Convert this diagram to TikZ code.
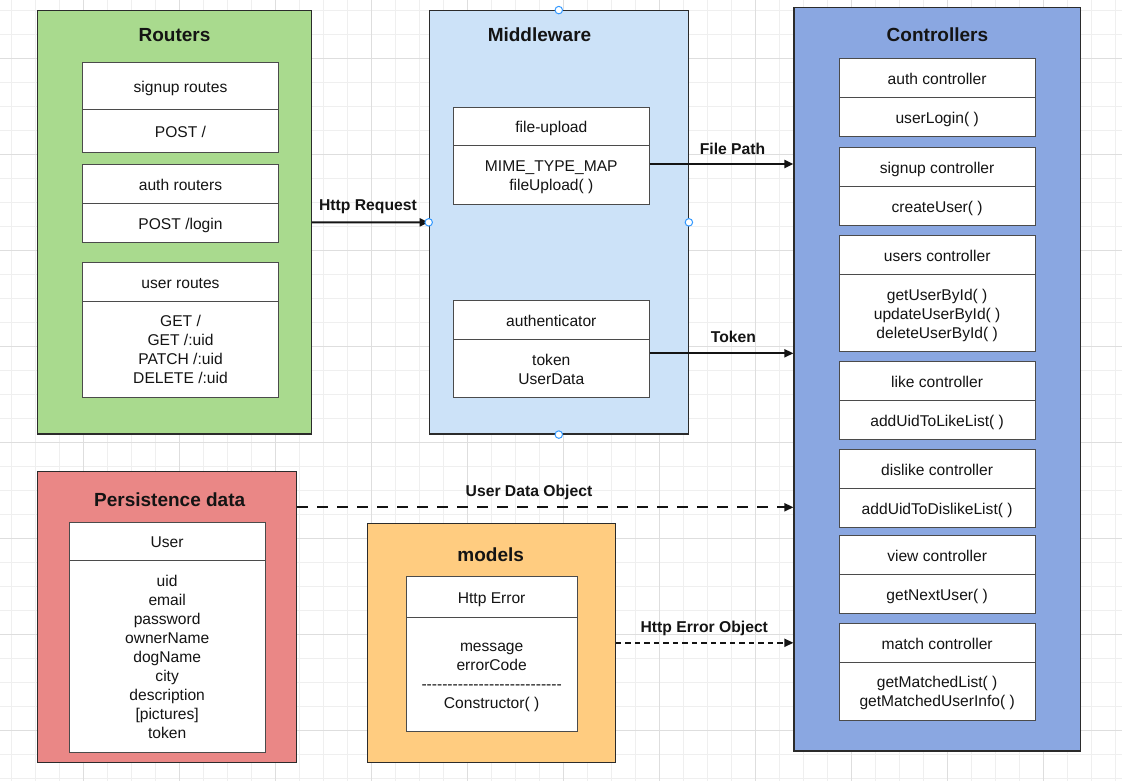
\documentclass[tikz,border=0pt]{standalone}
\usepackage{fontspec}
\usepackage{array}
\setmainfont{Liberation Sans}
\usetikzlibrary{arrows.meta,fit}
\definecolor{cRout}{HTML}{A9DA8E}
\definecolor{cMid}{HTML}{CCE2F8}
\definecolor{cCtrl}{HTML}{8AA7E1}
\definecolor{cPers}{HTML}{EA8786}
\definecolor{cMod}{HTML}{FFCC80}
\definecolor{cLine}{HTML}{2B2B2B}
\definecolor{cText}{HTML}{141414}
\definecolor{cGridMin}{HTML}{EFEFEF}
\definecolor{cGridMaj}{HTML}{DEDEDE}
\definecolor{cHandle}{HTML}{3399FF}
\newcommand\dstrut{\rule[-3.2pt]{0pt}{19pt}}
\newcommand\celllines[1]{{\renewcommand\arraystretch{0}\begin{tabular}{@{}>{\dstrut}c@{}}#1\end{tabular}}}
\newcommand\umlcell[8]{%
  \node[cell, minimum width={(#3-#2)*1pt}, minimum height={(#5-#4)*1pt}] (#1-h) at ({(#2+#3)/2},{(#4+#5)/2}) {\celllines{#7}};
  \node[cell, minimum width={(#3-#2)*1pt}, minimum height={(#6-#5)*1pt}] (#1-b) at ({(#2+#3)/2},{(#5+#6)/2}) {\celllines{#8}};}
\begin{document}
\begin{tikzpicture}[x=1pt,y=-1pt,
  container/.style={draw=cLine, line width=1.2pt, inner sep=0pt},
  cell/.style={draw=cLine!85, line width=1pt, fill=white, inner sep=0pt,
    text=cText, font=\fontsize{15.6}{19}\selectfont},
  title/.style={anchor=base, text=cText, font=\fontsize{19}{23}\selectfont\bfseries, inner sep=0pt},
  elabel/.style={anchor=base, text=cText, font=\fontsize{15.7}{19}\selectfont\bfseries, inner sep=0pt},
  conn/.style={draw=cText, line width=2pt, -{Triangle[length=9pt,width=8pt]}},
  handle/.style={circle, draw=cHandle, fill=white, line width=1pt, minimum size=7.5pt, inner sep=0pt},
]
\useasboundingbox (0,0) rectangle (1122,781);
\fill[white] (0,0) rectangle (1122,781);
% grid
\foreach \k in {0,...,46} \draw[cGridMin, line width=1pt] ({11.7+24*\k},0) -- ({11.7+24*\k},781);
\foreach \k in {0,...,32} \draw[cGridMin, line width=1pt] (0,{10.7+24*\k}) -- (1122,{10.7+24*\k});
\foreach \k in {3,7,...,43} \draw[cGridMaj, line width=1pt] ({11.7+24*\k},0) -- ({11.7+24*\k},781);
\foreach \k in {2,6,...,30} \draw[cGridMaj, line width=1pt] (0,{10.7+24*\k}) -- (1122,{10.7+24*\k});

% containers
\node[container, fill=cRout, fit={(37.5,10.5) (311.5,434)}] (routers) {};
\node[container, fill=cMid, fit={(429.3,10.7) (688.3,434)}] (mw) {};
\node[container, fill=cCtrl, fit={(794,7.3) (1080.7,751)}] (ctrl) {};
\node[container, fill=cPers, fit={(37.3,471.7) (296.7,762.3)}] (pers) {};
\node[container, fill=cMod, fit={(367.7,523.3) (615.3,762.3)}] (models) {};

% titles
\node[title] (t-rout) at (174.5,41.7) {Routers};
\node[title] (t-mw) at (539.5,41.7) {Middleware};
\node[title] (t-ctrl) at (937.4,41.7) {Controllers};
\node[title] (t-pers) at (169.7,506.7) {Persistence data};
\node[title] (t-mod) at (490.7,561.7) {models};

% routers
\umlcell{sr}{82.7}{278.3}{62.7}{109.3}{152.7}{signup routes}{POST /}
\umlcell{ar}{82.7}{278.3}{164.3}{203.3}{242.3}{auth routers}{POST /login}
\umlcell{ur}{82.7}{278.3}{262.7}{301.3}{397}{user routes}{GET /\\GET /:uid\\PATCH /:uid\\DELETE /:uid}
% middleware
\umlcell{fu}{453.3}{649.3}{107.3}{146}{204}{file-upload}{MIME\_TYPE\_MAP\\fileUpload( )}
\umlcell{au}{453.3}{649.3}{300.3}{339.3}{397.5}{authenticator}{token\\UserData}
% controllers
\umlcell{ac}{839.3}{1035}{58.7}{97.7}{136.3}{auth controller}{userLogin( )}
\umlcell{sc}{839.3}{1035}{147.3}{186.7}{225.3}{signup controller}{createUser( )}
\umlcell{uc}{839.3}{1035}{235.3}{274.7}{351.3}{users controller}{getUserById( )\\updateUserById( )\\deleteUserById( )}
\umlcell{lc}{839.3}{1035}{361.7}{400.7}{439.3}{like controller}{addUidToLikeList( )}
\umlcell{dc}{839.3}{1035}{449.3}{488.3}{527.3}{dislike controller}{addUidToDislikeList( )}
\umlcell{vc}{839.3}{1035}{535.3}{574.7}{613.3}{view controller}{getNextUser( )}
\umlcell{mc}{839.3}{1035}{623.7}{662.3}{720}{match controller}{getMatchedList( )\\getMatchedUserInfo( )}
% persistence
\umlcell{user}{69.3}{265}{522}{560.7}{752.3}{User}{uid\\email\\password\\ownerName\\dogName\\city\\description\\{[pictures]}\\token}
% models
\umlcell{he}{406}{577.3}{576.7}{617}{731.3}{Http Error}{message\\errorCode\\-{}-{}-{}-{}-{}-{}-{}-{}-{}-{}-{}-{}-{}-{}-{}-{}-{}-{}-{}-{}-{}-{}-{}-{}-{}-{}-{}\\Constructor( )}

% connectors
\draw[conn] (routers.east) -- (mw.west);
\node[elabel] (l-req) at (368,210.7) {Http Request};

\coordinate (fp0) at ([yshift=11pt]fu-b.east);
\draw[conn] (fp0) -- (fp0 -| ctrl.west);
\node[elabel] (l-fp) at (732.5,154) {File Path};

\coordinate (tk0) at ([yshift=15.1pt]au-b.east);
\draw[conn] (tk0) -- (tk0 -| ctrl.west);
\node[elabel] (l-tk) at (733.5,342.7) {Token};

\coordinate (ud0) at ([yshift=109.7pt]pers.east);
\draw[conn, dash pattern=on 11pt off 9pt] (ud0) -- (ud0 -| ctrl.west);
\node[elabel] (l-ud) at (529,496) {User Data Object};

\draw[conn, dash pattern=on 5.5pt off 4pt] (models.east) -- (models.east -| ctrl.west);
\node[elabel] (l-he) at (704.3,632) {Http Error Object};

% handles
\node[handle] (h-n) at (mw.north) {};
\node[handle] (h-w) at (mw.west) {};
\node[handle] (h-e) at (mw.east) {};
\node[handle] (h-s) at (mw.south) {};
\end{tikzpicture}
\end{document}
